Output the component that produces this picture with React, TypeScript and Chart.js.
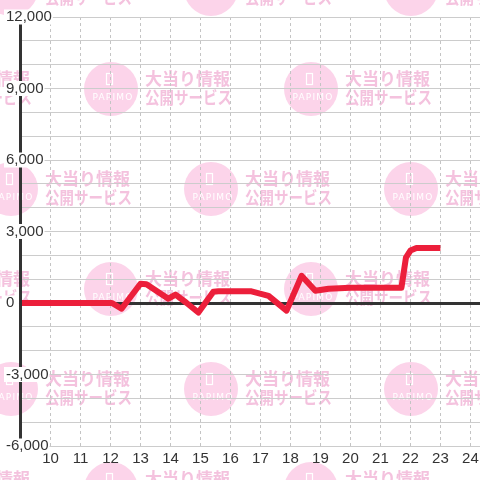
import React, { useEffect, useRef } from "react";
import { Chart, registerables } from "chart.js";

Chart.register(...registerables);

// hour of day (x) and cumulative difference (y)
const hours = [9, 12.05, 12.37, 13.0, 13.2, 13.93, 14.17, 14.53, 14.93, 15.43, 15.6, 16.7, 17.27, 17.87, 18.37, 18.83, 19.27, 20.0, 21.7, 21.85, 22.0, 22.2, 23.0];
const profit = [0, 0, -240, 810, 790, 180, 350, 10, -400, 470, 490, 490, 300, -320, 1140, 515, 600, 640, 640, 1900, 2200, 2310, 2310];

const xMin = 9;
const xMax = 24.32;
const xLabelFrom = 10;
const yMin = -6000;
const yMax = 12000;
const yGridStep = 1000;
const yLabelStep = 3000;

const lineColor = "#ec1f3b";

function drawMark(ctx: CanvasRenderingContext2D, cx: number, cy: number) {
  ctx.fillStyle = "#fcd4ea";
  ctx.beginPath();
  ctx.arc(cx, cy, 27, 0, Math.PI * 2);
  ctx.fill();
  ctx.strokeStyle = "#ffffff";
  ctx.lineWidth = 1.2;
  ctx.strokeRect(cx - 4.5, cy - 15.5, 6, 11);
  ctx.fillStyle = "#ffffff";
  ctx.font = "9px 'DejaVu Sans'";
  ctx.textAlign = "center";
  ctx.textBaseline = "middle";
  (ctx as any).letterSpacing = "1.2px";
  ctx.fillText("PAPIMO", cx + 2, cy + 9, 44);
  (ctx as any).letterSpacing = "0px";
  ctx.fillStyle = "#f4c2de";
  ctx.font = "bold 17px 'Noto Sans CJK JP'";
  ctx.textAlign = "left";
  ctx.fillText("大当り情報", cx + 34, cy - 10, 87);
  ctx.fillText("公開サービス", cx + 34, cy + 9, 87);
}

const watermark = {
  id: "watermark",
  beforeDraw(chart: any) {
    const ctx = chart.ctx as CanvasRenderingContext2D;
    ctx.save();
    ctx.fillStyle = "#ffffff";
    ctx.fillRect(0, 0, chart.width, chart.height);
    const rows = [-11, 89, 189, 289, 389, 489];
    rows.forEach((cy, i) => {
      const xs = i % 2 === 0 ? [11, 211, 411] : [-89, 111, 311, 511];
      xs.forEach((cx) => drawMark(ctx, cx, cy));
    });
    ctx.restore();
  },
};

export default function App() {
  const ref = useRef<HTMLCanvasElement | null>(null);

  useEffect(() => {
    if (!ref.current) return;
    const points = hours.map((h, i) => ({ x: h, y: profit[i] }));
    const chart = new Chart(ref.current, {
      type: "line",
      data: {
        datasets: [
          {
            data: points,
            borderColor: lineColor,
            backgroundColor: lineColor,
            borderWidth: 6,
            pointRadius: 0,
            tension: 0,
            fill: false,
            borderJoinStyle: "round",
            borderCapStyle: "butt",
          },
        ],
      },
      options: {
        responsive: false,
        animation: false,
        events: [],
        layout: { padding: { top: 17, left: 5, right: 0, bottom: 0 } },
        plugins: { legend: { display: false }, tooltip: { enabled: false } },
        scales: {
          x: {
            type: "linear",
            min: xMin,
            max: xMax,
            ticks: {
              stepSize: 1,
              includeBounds: false,
              autoSkip: false,
              maxRotation: 0,
              padding: 0,
              color: "#333333",
              font: { family: "'Liberation Sans', Arial, sans-serif", size: 15, lineHeight: 26 / 15 },
              callback: (v: any) => (Number(v) >= xLabelFrom ? String(v) : ""),
            },
            grid: { color: "#c4c4c4", lineWidth: 1, drawTicks: false },
            border: { display: false, dash: [3, 3] },
            afterFit: (s: any) => {
              s.height = 34;
            },
          } as any,
          y: {
            type: "linear",
            min: yMin,
            max: yMax,
            ticks: {
              stepSize: yGridStep,
              mirror: true,
              crossAlign: "near",
              padding: -14.5,
              z: 2,
              color: "#333333",
              font: { family: "'Liberation Sans', Arial, sans-serif", size: 15, lineHeight: 1 },
              callback: (v: any) => (Number(v) % yLabelStep === 0 ? Number(v).toLocaleString("en-US") : ""),
              showLabelBackdrop: true,
              backdropColor: (c: any) =>
                c.tick && c.tick.value % yLabelStep === 0 ? "#ffffff" : "rgba(0,0,0,0)",
              backdropPadding: { left: 2, right: 1, top: 0, bottom: 0 },
            },
            grid: {
              color: (c: any) => (c.tick && c.tick.value === 0 ? "#333333" : "#cccccc"),
              lineWidth: (c: any) => (c.tick && c.tick.value === 0 ? 3 : 1),
              drawTicks: false,
            },
            border: { display: true, color: "#333333", width: 3, z: 1 },
            afterFit: (s: any) => {
              s.width = 15.5;
            },
          } as any,
        },
      },
      plugins: [watermark],
    });
    return () => chart.destroy();
  }, []);

  return (
    <div style={{ position: "fixed", left: 0, top: 0, width: 480, height: 480 }}>
      <canvas ref={ref} width={480} height={480} style={{ display: "block" }} />
    </div>
  );
}
